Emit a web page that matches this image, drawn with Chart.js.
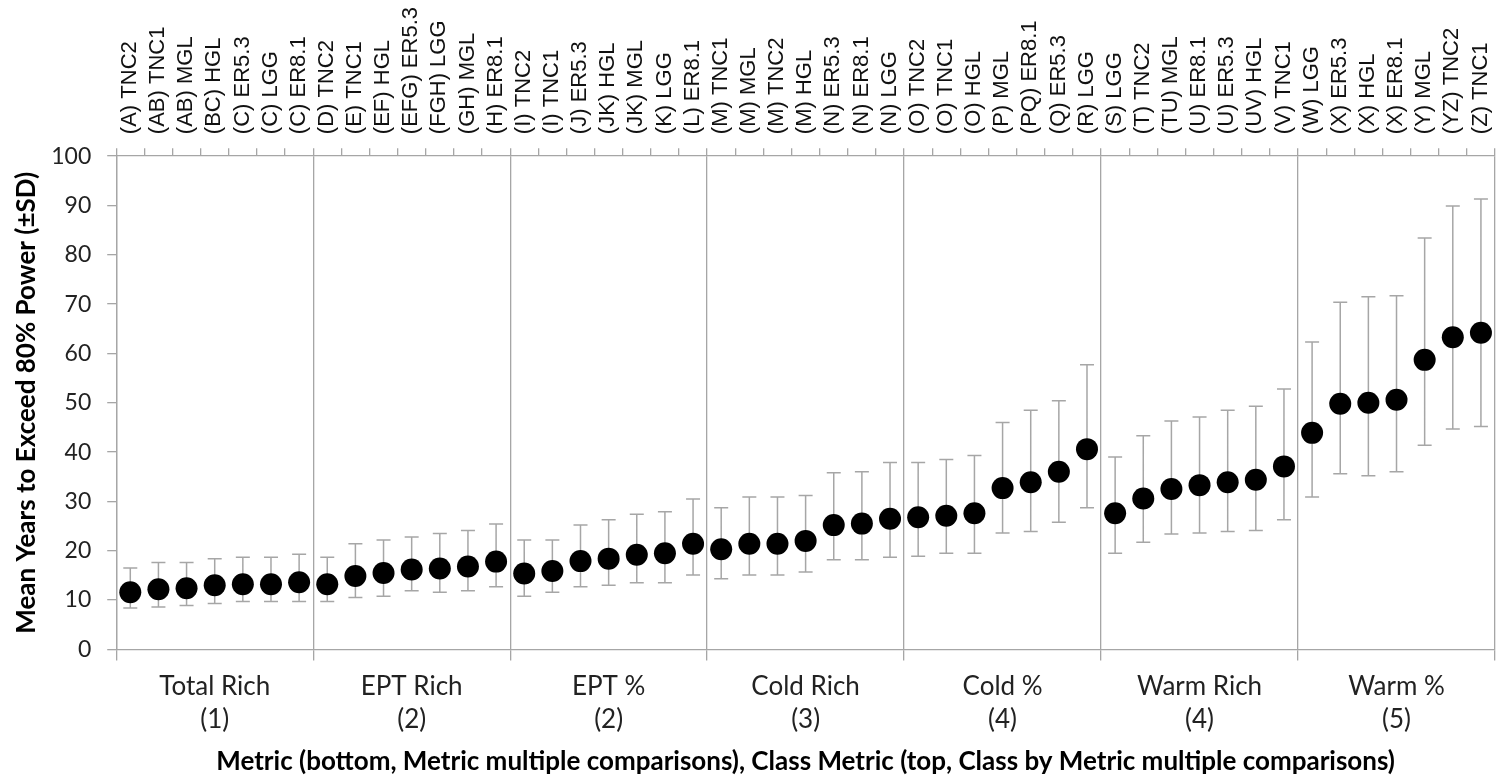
<!DOCTYPE html>
<html>
<head>
<meta charset="utf-8">
<script src="https://cdn.jsdelivr.net/npm/chart.js@4"></script>
<style>
  body { margin: 0; background: #fff; overflow: hidden; }
  #wrap { width: 1497px; height: 775px; }
</style>
</head>
<body>
<div id="wrap"><canvas id="chartPower"></canvas></div>
<script>
// class by metric labels (top axis), in plotted order
const classLabels = [
    '(A) TNC2', '(AB) TNC1', '(AB) MGL', '(BC) HGL', '(C) ER5.3', '(C) LGG', '(C) ER8.1',
    '(D) TNC2', '(E) TNC1', '(EF) HGL', '(EFG) ER5.3', '(FGH) LGG', '(GH) MGL', '(H) ER8.1',
    '(I) TNC2', '(I) TNC1', '(J) ER5.3', '(JK) HGL', '(JK) MGL', '(K) LGG', '(L) ER8.1',
    '(M) TNC1', '(M) MGL', '(M) TNC2', '(M) HGL', '(N) ER5.3', '(N) ER8.1', '(N) LGG',
    '(O) TNC2', '(O) TNC1', '(O) HGL', '(P) MGL', '(PQ) ER8.1', '(Q) ER5.3', '(R) LGG',
    '(S) LGG', '(T) TNC2', '(TU) MGL', '(U) ER8.1', '(U) ER5.3', '(UV) HGL', '(V) TNC1',
    '(W) LGG', '(X) ER5.3', '(X) HGL', '(X) ER8.1', '(Y) MGL', '(YZ) TNC2', '(Z) TNC1'
];

// metric groups (bottom axis)
const metricLabels = [
    ['Total Rich', '(1)'], ['EPT Rich', '(2)'], ['EPT %', '(2)'], ['Cold Rich', '(3)'],
    ['Cold %', '(4)'], ['Warm Rich', '(4)'], ['Warm %', '(5)']
];

const meanYears = [
    11.6, 12.2, 12.4, 13.0, 13.2, 13.2, 13.6,
    13.2, 14.9, 15.5, 16.2, 16.4, 16.8, 17.8,
    15.4, 15.9, 17.9, 18.4, 19.2, 19.5, 21.4,
    20.3, 21.4, 21.4, 22.0, 25.2, 25.5, 26.5,
    26.8, 27.1, 27.6, 32.7, 33.9, 36.0, 40.6,
    27.6, 30.6, 32.5, 33.3, 33.9, 34.4, 37.1,
    43.9, 49.8, 50.0, 50.6, 58.7, 63.3, 64.2
];

// error bar ends (+SD / -SD)
const sdUpper = [
    16.5, 17.6, 17.6, 18.4, 18.7, 18.7, 19.3,
    18.7, 21.4, 22.2, 22.8, 23.5, 24.1, 25.4,
    22.2, 22.2, 25.2, 26.3, 27.4, 27.9, 30.5,
    28.7, 30.9, 30.9, 31.2, 35.8, 36.0, 37.9,
    37.9, 38.5, 39.3, 46.0, 48.5, 50.4, 57.7,
    39.0, 43.3, 46.3, 47.1, 48.5, 49.3, 52.8,
    62.3, 70.4, 71.5, 71.7, 83.4, 89.9, 91.3
];
const sdLower = [
    8.4, 8.6, 8.9, 9.3, 9.7, 9.7, 9.7,
    9.7, 10.5, 10.8, 11.9, 11.6, 11.9, 12.7,
    10.8, 11.6, 12.7, 13.0, 13.5, 13.5, 15.1,
    14.3, 15.1, 15.1, 15.7, 18.2, 18.2, 18.7,
    18.9, 19.5, 19.5, 23.6, 23.9, 25.8, 28.7,
    19.5, 21.7, 23.4, 23.6, 23.9, 24.1, 26.3,
    30.9, 35.6, 35.2, 36.0, 41.4, 44.7, 45.2
];

const axisGray = '#a6a6a6';

// draws the SD whiskers behind the dots
const errorBars = {
    id: 'errorBars',
    beforeDatasetsDraw(chart) {
        const ctx = chart.ctx;
        const xs = chart.scales.xTop;
        const ys = chart.scales.y;
        ctx.save();
        ctx.strokeStyle = axisGray;
        ctx.lineWidth = 1.5;
        ctx.beginPath();
        meanYears.forEach((v, i) => {
            const px = xs.getPixelForValue(i);
            const top = ys.getPixelForValue(sdUpper[i]);
            const bot = ys.getPixelForValue(sdLower[i]);
            ctx.moveTo(px, top); ctx.lineTo(px, bot);
            ctx.moveTo(px - 7, top); ctx.lineTo(px + 7, top);
            ctx.moveTo(px - 7, bot); ctx.lineTo(px + 7, bot);
        });
        ctx.stroke();
        ctx.restore();
    }
};

// note: chart.js reserves tick padding twice, the negative paddings below take that back
new Chart(document.getElementById('chartPower').getContext('2d'), {
    type: 'line',
    data: {
        labels: classLabels,
        datasets: [{
            data: meanYears,
            xAxisID: 'xTop',
            yAxisID: 'y',
            showLine: false,
            pointRadius: 11,
            pointHoverRadius: 11,
            pointBackgroundColor: '#000',
            pointBorderColor: '#000',
            pointBorderWidth: 0
        }]
    },
    options: {
        responsive: true,
        maintainAspectRatio: false,
        animation: false,
        layout: { autoPadding: false, padding: { top: -7, right: 2, left: 11, bottom: 0 } },
        plugins: { legend: { display: false }, tooltip: { enabled: false } },
        scales: {
            xTop: {
                type: 'category',
                position: 'top',
                labels: classLabels,
                offset: true,
                grid: { offset: true, drawOnChartArea: false, tickLength: 8, color: axisGray, lineWidth: 1.3 },
                border: { color: axisGray, width: 1.3 },
                ticks: {
                    autoSkip: false, minRotation: 90, maxRotation: 90, padding: 14, labelOffset: 26,
                    color: '#111', font: { family: 'Liberation Sans', size: 22 }
                }
            },
            xBottom: {
                type: 'category',
                position: 'bottom',
                labels: metricLabels,
                offset: true,
                grid: { offset: true, tickLength: 11, color: axisGray, lineWidth: 1.3 },
                border: { color: axisGray, width: 1.3 },
                ticks: {
                    autoSkip: false, maxRotation: 0, padding: 9,
                    color: '#222', font: { family: 'Lato', size: 26, lineHeight: 1.3 }
                },
                title: {
                    display: true,
                    text: 'Metric (bottom, Metric multiple comparisons), Class Metric (top, Class by Metric multiple comparisons)',
                    color: '#000', font: { family: 'Lato', size: 26, weight: 'bold', lineHeight: 1.0 },
                    padding: { top: 3, bottom: 0 }
                }
            },
            y: {
                min: 0, max: 100,
                ticks: { stepSize: 10, padding: 16, color: '#222', font: { family: 'Lato', size: 23 } },
                grid: { drawOnChartArea: false, tickLength: 9, color: axisGray, lineWidth: 1.3 },
                border: { color: axisGray, width: 1.3 },
                title: {
                    display: true,
                    text: 'Mean Years to Exceed 80% Power (±SD)',
                    color: '#000', font: { family: 'Lato', size: 26, weight: 'bold' },
                    padding: { top: 0, bottom: -7 }
                }
            }
        }
    },
    plugins: [errorBars]
});
</script>
</body>
</html>
